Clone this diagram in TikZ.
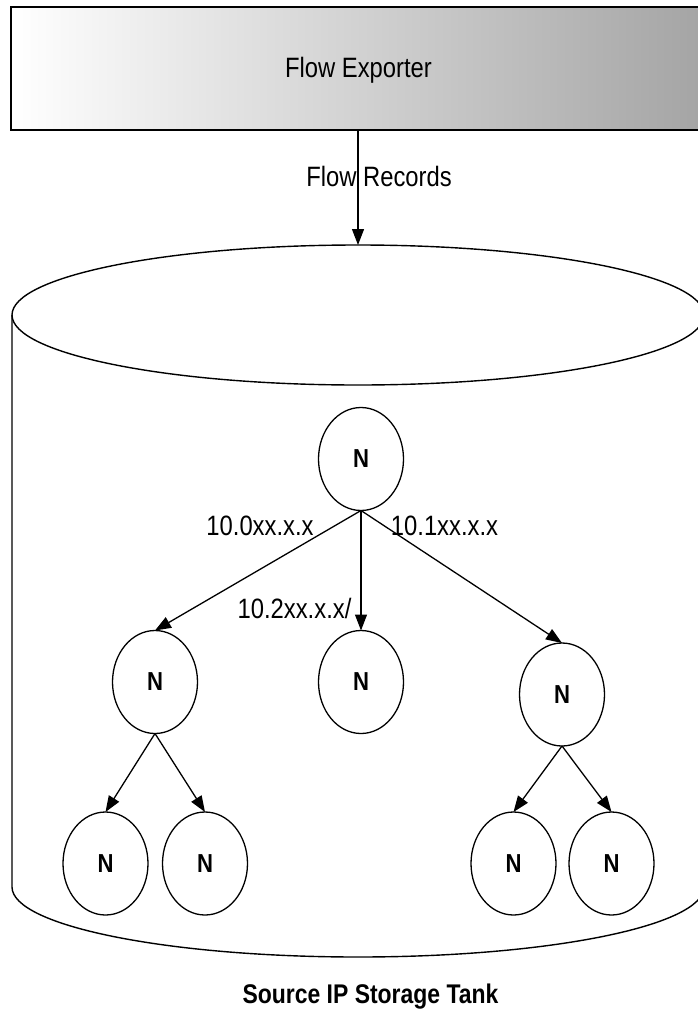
\documentclass[tikz,border=0pt]{standalone}
\usepackage{fontspec}
\setmainfont{Liberation Sans}[FakeStretch=0.85]
\usetikzlibrary{shapes.geometric,arrows.meta}
\begin{document}
\begin{tikzpicture}[x=1pt,y=-1pt,
  treenode/.style={ellipse, draw, line width=1.3pt, minimum width=85pt,
    minimum height=103pt, inner sep=0pt, outer sep=0pt,
    font=\fontsize{26}{28}\selectfont\bfseries},
  link/.style={-{Triangle[length=16pt,width=12pt]}, line width=1.3pt},
  lbl/.style={anchor=base, inner sep=0pt, font=\fontsize{28}{30}\selectfont},
]
\useasboundingbox (0,0) rectangle (698,1009);

% exporter box with horizontal grey gradient
\node (box) [draw=black, line width=1.2pt, left color=white, right color=black!36,
  minimum width=701pt, minimum height=123pt, inner sep=0pt, outer sep=0pt,
  anchor=north west] at (11,7) {};
\node (exporter) [lbl] at (358.5,77.3) {Flow Exporter};

% storage tank: top ellipse, sides and lower rim
\node (tank) [ellipse, draw, line width=1.4pt, minimum width=692pt,
  minimum height=140pt, inner sep=0pt, outer sep=0pt] at (358,315) {};
\draw[line width=1.4pt] (tank.west) -- ++(0,572)
  arc[start angle=180, end angle=360, x radius=346pt, y radius=70pt]
  -- (tank.east);

\draw[link] (box.south -| tank.north) -- (tank.north);
\node (records) [lbl] at (379,186.7) {Flow Records};

% tree of nodes
\node (root) [treenode] at (361,459) {N};
\node (c1) [treenode] at (155,682) {N};
\node (c2) [treenode] at (361,682) {N};
\node (c3) [treenode] at (562,694.5) {N};
\node (l1) [treenode] at (105.5,863.5) {N};
\node (l2) [treenode] at (205,863.5) {N};
\node (l3) [treenode] at (513.5,863.5) {N};
\node (l4) [treenode] at (611.5,863.5) {N};

\draw[link] (root.south) -- (c1.north);
\draw[link] (root.south) -- (c2.north);
\draw[link] (root.south) -- (c3.north);
\draw[link] (c1.south) -- (l1.north);
\draw[link] (c1.south) -- (l2.north);
\draw[link] (c3.south) -- (l3.north);
\draw[link] (c3.south) -- (l4.north);

\node (p0) [lbl] at (260,535) {10.0xx.x.x};
\node (p1) [lbl] at (444.5,535) {10.1xx.x.x};
\node (p2) [lbl] at (294.5,618) {10.2xx.x.x/};

\node (caption) [lbl, font=\fontsize{27}{29}\selectfont\bfseries] at (370.5,1003.5)
  {Source IP Storage Tank};
\end{tikzpicture}
\end{document}
